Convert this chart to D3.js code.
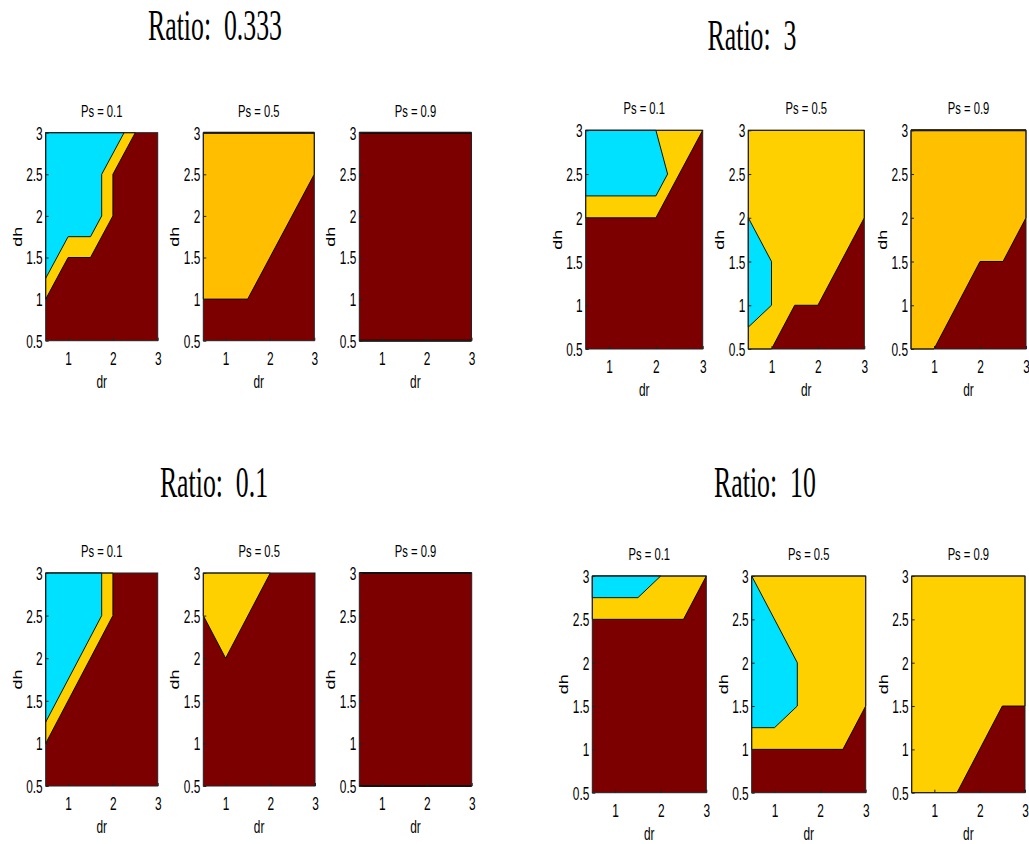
<!DOCTYPE html>
<html><head><meta charset="utf-8">
<script src="https://cdn.jsdelivr.net/npm/d3@7"></script>
<style>body{margin:0;background:#fff} svg{display:block}</style>
</head><body><svg id="chart" width="1029" height="844"></svg>
<script>
// ---- data -------------------------------------------------------------
const ratioLabels = ["0.333", "3", "0.1", "10"];
const psLabels = ["0.1", "0.5", "0.9"];
const drTicks = [1, 2, 3];
const dhTicks = [0.5, 1, 1.5, 2, 2.5, 3];
const drDomain = [0.5, 3];
const dhDomain = [0.5, 3];

// Filled contour zones as (dr, dh) outlines, one entry per Ps.
// The low zone fills the whole plot; mid and high zones are drawn over it.
const midZone_r0333 = [
  [[0.5,1],[1,1.5],[1.5,1.5],[2,2],[2,2.5],[2.5,3],[0.5,3]],
  [[0.5,1],[1.5,1],[3,2.5],[3,3],[0.5,3]],
  []
];
const highZone_r0333 = [
  [[0.5,1.25],[1,1.75],[1.5,1.75],[1.75,2],[1.75,2.5],[2.25,3],[0.5,3]],
  [],
  []
];
const midZone_r3 = [
  [[0.5,2],[2,2],[3,3],[0.5,3]],
  [[0.5,0.5],[1,0.5],[1.5,1],[2,1],[3,2],[3,3],[0.5,3]],
  [[0.5,0.5],[1,0.5],[2,1.5],[2.5,1.5],[3,2],[3,3],[0.5,3]]
];
const highZone_r3 = [
  [[0.5,2.25],[2,2.25],[2.25,2.5],[2,3],[0.5,3]],
  [[0.5,2],[1,1.5],[1,1],[0.5,0.75]],
  []
];
const midZone_r01 = [
  [[0.5,1],[2,2.5],[2,3],[0.5,3]],
  [[0.5,2.5],[1,2],[2,3],[0.5,3]],
  []
];
const highZone_r01 = [
  [[0.5,1.25],[1.75,2.5],[1.75,3],[0.5,3]],
  [],
  []
];
const midZone_r10 = [
  [[0.5,2.5],[2.5,2.5],[3,3],[0.5,3]],
  [[0.5,1],[2.5,1],[3,1.5],[3,3],[0.5,3]],
  [[0.5,0.5],[1.5,0.5],[2.5,1.5],[3,1.5],[3,3],[0.5,3]]
];
const highZone_r10 = [
  [[0.5,2.75],[1.5,2.75],[2,3],[0.5,3]],
  [[0.5,3],[1.5,2],[1.5,1.5],[1,1.25],[0.5,1.25]],
  []
];
// Contour levels that run along the plot border (dh values), per Ps.
const edgeContours_r0333 = [[], [3], [3, 0.5]];
const edgeContours_r3 = [[], [], [3]];
const edgeContours_r01 = [[], [], [3, 0.5]];
const edgeContours_r10 = [[], [], []];

// ---- layout & style ---------------------------------------------------
const lowColor = "#7c0000";
const highColor = "#00e0ff";
const groups = [
  { label: ratioLabels[0], mid: midZone_r0333, high: highZone_r0333, edges: edgeContours_r0333,
    lefts: [45.7, 203.3, 359.3], rights: [157.7, 314.3, 471.5], top: 132.7, bottom: 340.7,
    tx: 215, ty: 40, midColors: ["#ffd000", "#ffbf00", "#ffd000"] },
  { label: ratioLabels[1], mid: midZone_r3, high: highZone_r3, edges: edgeContours_r3,
    lefts: [585.7, 748.3, 911], rights: [702.7, 864.3, 1026], top: 130.3, bottom: 349,
    tx: 752, ty: 50, midColors: ["#ffd000", "#ffd000", "#ffc000"] },
  { label: ratioLabels[2], mid: midZone_r01, high: highZone_r01, edges: edgeContours_r01,
    lefts: [45.7, 203.3, 359.3], rights: [157.7, 315, 471.7], top: 573, bottom: 786,
    tx: 214, ty: 497, midColors: ["#ffd000", "#ffd000", "#ffd000"] },
  { label: ratioLabels[3], mid: midZone_r10, high: highZone_r10, edges: edgeContours_r10,
    lefts: [592.3, 751.7, 911.7], rights: [706.3, 865.7, 1025], top: 576, bottom: 792.7,
    tx: 765, ty: 497, midColors: ["#ffd000", "#ffd000", "#ffd000"] }
];

const sansFont = "'Liberation Sans', Arial, sans-serif";
const serifFont = "'Liberation Serif', 'Times New Roman', serif";
const squeeze = 0.66;

const svg = d3.select("#chart");

groups.forEach(g => {
  // group title
  svg.append("text")
    .attr("transform", `translate(${g.tx},${g.ty}) scale(0.6,1.05)`)
    .attr("text-anchor", "middle")
    .style("white-space", "pre")
    .attr("font-family", serifFont)
    .attr("font-size", 43)
    .attr("fill", "#000")
    .text("Ratio:  " + g.label);

  psLabels.forEach((ps, i) => {
    const x = d3.scaleLinear().domain(drDomain).range([g.lefts[i], g.rights[i]]);
    const y = d3.scaleLinear().domain(dhDomain).range([g.bottom, g.top]);
    const p = svg.append("g");
    const line = d3.line().x(d => x(d[0])).y(d => y(d[1]));

    // low zone fills the plot area
    p.append("rect")
      .attr("x", x(drDomain[0])).attr("y", y(dhDomain[1]))
      .attr("width", x(drDomain[1]) - x(drDomain[0]))
      .attr("height", y(dhDomain[0]) - y(dhDomain[1]))
      .attr("fill", lowColor);

    if (g.mid[i].length)
      p.append("path").attr("d", line(g.mid[i]) + "Z")
        .attr("fill", g.midColors[i]).attr("stroke", "#000").attr("stroke-width", 0.9)
        .attr("stroke-linejoin", "round");
    if (g.high[i].length)
      p.append("path").attr("d", line(g.high[i]) + "Z")
        .attr("fill", highColor).attr("stroke", "#000").attr("stroke-width", 0.9)
        .attr("stroke-linejoin", "round");

    g.edges[i].forEach(lv => {
      p.append("line")
        .attr("x1", x(drDomain[0])).attr("x2", x(drDomain[1]))
        .attr("y1", y(lv)).attr("y2", y(lv))
        .attr("stroke", "#000").attr("stroke-width", 2);
    });

    // plot box
    p.append("rect")
      .attr("x", x(drDomain[0])).attr("y", y(dhDomain[1]))
      .attr("width", x(drDomain[1]) - x(drDomain[0]))
      .attr("height", y(dhDomain[0]) - y(dhDomain[1]))
      .attr("fill", "none").attr("stroke", "#222").attr("stroke-width", 1);

    // axes with inward ticks
    const ax = p.append("g").attr("transform", `translate(0,${g.bottom})`)
      .call(d3.axisBottom(x).tickValues(drTicks).tickSizeInner(-3).tickSizeOuter(0).tickFormat(d3.format("")));
    ax.select(".domain").remove();
    ax.selectAll("line").attr("stroke", "#222");
    ax.selectAll("text")
      .attr("y", 24).attr("dy", null)
      .attr("transform", `scale(${squeeze},1)`)
      .attr("font-family", sansFont).attr("font-size", 18).attr("fill", "#000");

    const ay = p.append("g").attr("transform", `translate(${g.lefts[i]},0)`)
      .call(d3.axisLeft(y).tickValues(dhTicks).tickSizeInner(-3).tickSizeOuter(0).tickFormat(d3.format("")));
    ay.select(".domain").remove();
    ay.selectAll("line").attr("stroke", "#222");
    ay.selectAll("text")
      .attr("x", -3 / squeeze).attr("dy", "0.36em")
      .attr("transform", `scale(${squeeze},1)`)
      .attr("font-family", sansFont).attr("font-size", 18).attr("fill", "#000");

    const cx = (g.lefts[i] + g.rights[i]) / 2;
    // panel title
    p.append("text")
      .attr("transform", `translate(${cx},${g.top - 16}) scale(${squeeze},1)`)
      .attr("text-anchor", "middle")
      .style("white-space", "pre")
      .attr("font-family", sansFont).attr("font-size", 17).attr("fill", "#000")
      .text("Ps = " + ps);

    // axis labels
    p.append("text")
      .attr("transform", `translate(${cx},${g.bottom + 47}) scale(${squeeze},1)`)
      .attr("text-anchor", "middle")
      .attr("font-family", sansFont).attr("font-size", 18).attr("fill", "#000")
      .text("dr");
    p.append("text")
      .attr("transform", `translate(${g.lefts[i] - 24},${(g.top + g.bottom) / 2}) scale(${squeeze},1) rotate(-90)`)
      .attr("text-anchor", "middle")
      .attr("font-family", sansFont).attr("font-size", 18).attr("fill", "#000")
      .text("dh");
  });
});
</script>
</body></html>
